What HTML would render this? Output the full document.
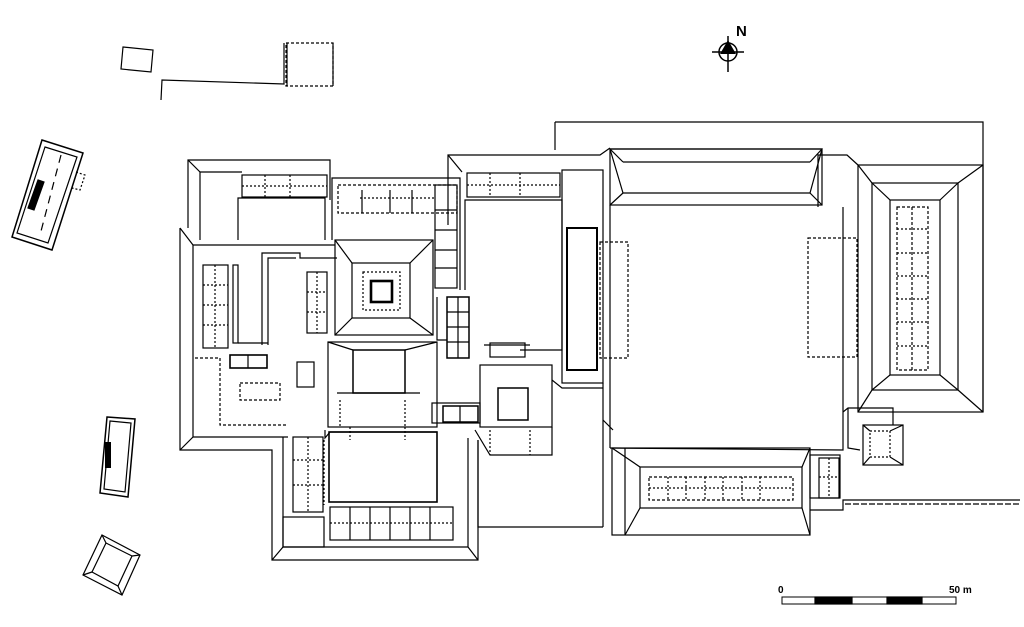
<!DOCTYPE html>
<html><head><meta charset="utf-8"><style>
html,body{margin:0;padding:0;background:#fff;}
svg{display:block}
</style></head><body>
<svg width="1024" height="627" viewBox="0 0 1024 627" xmlns="http://www.w3.org/2000/svg" fill="none" stroke="#000" stroke-width="1.2">
<!-- top-left remains -->
<polygon points="123,47 153,50 151,72 121,69"/>
<polyline points="161,100 162,80 284,84 284,43"/>
<rect x="286" y="43" width="47" height="43" stroke-dasharray="3,2"/>
<line x1="333" y1="43" x2="333" y2="86"/>
<line x1="287" y1="43" x2="287" y2="86"/>

<!-- detached west buildings -->
<polygon points="42,140 83,153 52,250 12,237" stroke-width="1.5"/>
<polygon points="45,147 77,157 48,243 17,233"/>
<polygon points="38,180 44,182 34,210 28,208" fill="#000"/>
<line x1="61" y1="155" x2="40" y2="235" stroke-dasharray="8,6"/>
<polyline points="76,172 85,175 80,190 72,188" stroke-dasharray="2,2"/>
<polygon points="107,417 135,419 128,497 100,493" stroke-width="1.5"/>
<polygon points="110,421 131,423 125,492 104,489"/>
<rect x="105" y="442" width="6" height="26" fill="#000" stroke="none"/>
<polygon points="102,535 140,555 122,595 83,575"/>
<polygon points="106,543 132,556 118,586 92,572"/>
<line x1="102" y1="535" x2="106" y2="543"/><line x1="140" y1="555" x2="132" y2="556"/>
<line x1="122" y1="595" x2="118" y2="586"/><line x1="83" y1="575" x2="92" y2="572"/>

<!-- west complex outer -->
<polyline points="180,228 180,450 272,450 272,560 478,560 478,440"/>
<polyline points="193,245 193,437 288,437"/>
<polyline points="283,437 283,547 468,547 468,438"/>
<line x1="180" y1="228" x2="193" y2="245"/><line x1="180" y1="450" x2="193" y2="437"/>
<line x1="272" y1="560" x2="283" y2="547"/><line x1="478" y1="560" x2="468" y2="547"/>
<!-- NW block -->
<polyline points="188,228 188,160 330,160 330,200"/>
<polyline points="200,240 200,172 242,172"/>
<line x1="188" y1="160" x2="200" y2="172"/>
<rect x="242" y="175" width="85" height="22"/>
<line x1="265" y1="175" x2="265" y2="197" stroke-dasharray="2,2"/>
<line x1="290" y1="175" x2="290" y2="197" stroke-dasharray="2,2"/>
<line x1="242" y1="186" x2="327" y2="186" stroke-dasharray="2,2"/>
<polyline points="238,240 238,198 325,198 325,240"/>
<line x1="193" y1="245" x2="335" y2="245"/>
<!-- west inner -->
<polyline points="262,345 262,253 300,253 300,258 337,258"/>
<polyline points="268,345 268,258 296,258"/>
<rect x="307" y="272" width="20" height="61"/>
<line x1="317" y1="272" x2="317" y2="333" stroke-dasharray="2,2"/>
<line x1="307" y1="292" x2="327" y2="292" stroke-dasharray="2,2"/>
<line x1="307" y1="312" x2="327" y2="312" stroke-dasharray="2,2"/>
<rect x="203" y="265" width="25" height="83"/>
<line x1="215" y1="265" x2="215" y2="348" stroke-dasharray="2,2"/>
<line x1="203" y1="285" x2="228" y2="285" stroke-dasharray="2,2"/>
<line x1="203" y1="305" x2="228" y2="305" stroke-dasharray="2,2"/>
<line x1="203" y1="325" x2="228" y2="325" stroke-dasharray="2,2"/>
<rect x="233" y="265" width="5" height="78"/>
<line x1="238" y1="343" x2="268" y2="343"/>
<rect x="230" y="355" width="37" height="13" stroke-width="1.6"/>
<line x1="248" y1="355" x2="248" y2="368"/>
<rect x="297" y="362" width="17" height="25"/>
<rect x="240" y="383" width="40" height="17" stroke-dasharray="3,2"/>
<polyline points="195,358 220,358 220,425 288,425" stroke-dasharray="3,2"/>
<!-- central pavilion -->
<rect x="335" y="240" width="98" height="95"/>
<rect x="352" y="263" width="58" height="55"/>
<line x1="335" y1="240" x2="352" y2="263"/><line x1="433" y1="240" x2="410" y2="263"/>
<line x1="335" y1="335" x2="352" y2="318"/><line x1="433" y1="335" x2="410" y2="318"/>
<rect x="363" y="272" width="37" height="38" stroke-dasharray="2,2"/>
<rect x="371" y="281" width="21" height="21" stroke-width="2.6"/>
<!-- north courtyard block -->
<polyline points="332,240 332,178 460,178 460,290"/>
<rect x="338" y="185" width="119" height="28" stroke-dasharray="3,2"/>
<rect x="435" y="185" width="22" height="103"/>
<line x1="435" y1="210" x2="457" y2="210"/><line x1="435" y1="230" x2="457" y2="230"/>
<line x1="435" y1="250" x2="457" y2="250"/><line x1="435" y1="268" x2="457" y2="268"/>
<line x1="360" y1="198" x2="435" y2="198" stroke-dasharray="2,2"/>
<line x1="362" y1="190" x2="362" y2="213"/><line x1="390" y1="190" x2="390" y2="213"/><line x1="412" y1="190" x2="412" y2="213"/>
<!-- cell column -->
<rect x="447" y="297" width="22" height="61" stroke-width="1.5"/>
<line x1="458" y1="297" x2="458" y2="358"/>
<line x1="447" y1="312" x2="469" y2="312"/><line x1="447" y1="327" x2="469" y2="327"/><line x1="447" y1="342" x2="469" y2="342"/>
<polyline points="437,297 437,340 447,340"/>
<!-- middle courtyard block -->
<rect x="328" y="342" width="109" height="85"/>
<rect x="353" y="350" width="52" height="43" stroke-width="1.5"/>
<line x1="328" y1="342" x2="353" y2="350"/><line x1="437" y1="342" x2="405" y2="350"/>
<line x1="337" y1="393" x2="420" y2="393"/>
<line x1="340" y1="400" x2="340" y2="427" stroke-dasharray="2,2"/>
<line x1="405" y1="400" x2="405" y2="427" stroke-dasharray="2,2"/>
<polyline points="325,430 325,438 330,432 437,432"/>
<line x1="350" y1="427" x2="350" y2="440" stroke-dasharray="2,2"/>
<line x1="405" y1="427" x2="405" y2="440" stroke-dasharray="2,2"/>
<!-- south part -->
<rect x="329" y="432" width="108" height="70" stroke-width="1.6"/>
<rect x="330" y="507" width="123" height="33"/>
<line x1="350" y1="507" x2="350" y2="540"/><line x1="370" y1="507" x2="370" y2="540"/>
<line x1="390" y1="507" x2="390" y2="540"/><line x1="410" y1="507" x2="410" y2="540"/><line x1="430" y1="507" x2="430" y2="540"/>
<line x1="330" y1="523" x2="453" y2="523" stroke-dasharray="2,2"/>
<rect x="293" y="437" width="30" height="75"/>
<line x1="308" y1="437" x2="308" y2="512" stroke-dasharray="2,2"/>
<line x1="293" y1="460" x2="323" y2="460" stroke-dasharray="2,2"/>
<line x1="293" y1="485" x2="323" y2="485" stroke-dasharray="2,2"/>
<rect x="283" y="517" width="41" height="30"/>
<line x1="324" y1="440" x2="324" y2="505" stroke-dasharray="2,2"/>
<!-- east-central -->
<rect x="480" y="365" width="72" height="62"/>
<rect x="498" y="388" width="30" height="32" stroke-width="1.5"/>
<rect x="432" y="403" width="48" height="20"/>
<rect x="443" y="406" width="35" height="16" stroke-width="1.5"/>
<line x1="460" y1="406" x2="460" y2="422"/>
<polyline points="475,430 490,455 552,455 552,427"/>
<line x1="490" y1="430" x2="490" y2="455" stroke-dasharray="2,2"/>
<line x1="530" y1="430" x2="530" y2="455" stroke-dasharray="2,2"/>
<polyline points="552,380 562,388 603,388"/>
<polyline points="478,440 478,527 603,527"/>
<rect x="490" y="343" width="35" height="14"/>
<line x1="484" y1="345" x2="530" y2="345"/>
<!-- NE courtyard -->
<polyline points="448,225 448,155 600,155 610,148"/>
<line x1="448" y1="155" x2="462" y2="172"/>
<rect x="467" y="173" width="93" height="24"/>
<line x1="467" y1="185" x2="560" y2="185" stroke-dasharray="2,2"/>
<line x1="490" y1="173" x2="490" y2="197" stroke-dasharray="2,2"/>
<line x1="520" y1="173" x2="520" y2="197" stroke-dasharray="2,2"/>
<polyline points="465,290 465,200 562,200 562,350 520,350"/>
<rect x="562" y="170" width="41" height="213"/>
<rect x="567" y="228" width="30" height="142" stroke-width="2"/>
<line x1="603" y1="383" x2="603" y2="527"/>
<line x1="603" y1="420" x2="613" y2="430"/>
<!-- big east -->
<polyline points="555,122 983,122 983,412"/>
<line x1="555" y1="122" x2="555" y2="150"/>
<polygon points="610,149 822,149 810,193 623,193"/>
<rect x="610" y="149" width="212" height="56"/>
<line x1="623" y1="162" x2="810" y2="162"/>
<line x1="610" y1="149" x2="623" y2="162"/><line x1="822" y1="149" x2="810" y2="162"/>
<line x1="610" y1="205" x2="623" y2="193"/><line x1="822" y1="205" x2="810" y2="193"/>
<polyline points="818,207 818,155 847,155 858,165"/>
<line x1="610" y1="205" x2="610" y2="448"/>
<polyline points="843,207 843,450 610,448"/>
<rect x="808" y="238" width="49" height="119" stroke-dasharray="3,2"/>
<rect x="600" y="242" width="28" height="116" stroke-dasharray="3,2"/>
<rect x="858" y="165" width="125" height="247"/>
<rect x="872" y="183" width="86" height="207"/>
<rect x="890" y="200" width="50" height="175"/>
<line x1="872" y1="183" x2="890" y2="200"/><line x1="958" y1="183" x2="940" y2="200"/>
<line x1="872" y1="390" x2="890" y2="375"/><line x1="958" y1="390" x2="940" y2="375"/>
<line x1="858" y1="165" x2="872" y2="183"/><line x1="983" y1="165" x2="958" y2="183"/>
<line x1="858" y1="412" x2="872" y2="390"/><line x1="983" y1="412" x2="958" y2="390"/>
<rect x="897" y="207" width="31" height="163" stroke-dasharray="3,2"/>
<line x1="912" y1="207" x2="912" y2="370" stroke-dasharray="3,2"/>
<line x1="897" y1="229" x2="928" y2="229" stroke-dasharray="2,2"/>
<line x1="897" y1="253" x2="928" y2="253" stroke-dasharray="2,2"/>
<line x1="897" y1="276" x2="928" y2="276" stroke-dasharray="2,2"/>
<line x1="897" y1="299" x2="928" y2="299" stroke-dasharray="2,2"/>
<line x1="897" y1="322" x2="928" y2="322" stroke-dasharray="2,2"/>
<line x1="897" y1="346" x2="928" y2="346" stroke-dasharray="2,2"/>
<polyline points="843,412 848,408 893,408 893,425"/>
<polyline points="848,408 848,448 860,450"/>
<rect x="863" y="425" width="40" height="40"/>
<rect x="870" y="431" width="20" height="26" stroke-dasharray="2,2"/>
<line x1="863" y1="425" x2="870" y2="431"/><line x1="903" y1="425" x2="890" y2="431"/>
<line x1="863" y1="465" x2="870" y2="457"/><line x1="903" y1="465" x2="890" y2="457"/>
<!-- south hall -->
<rect x="612" y="448" width="198" height="87"/>
<rect x="640" y="467" width="162" height="41"/>
<line x1="612" y1="448" x2="640" y2="467"/><line x1="810" y1="448" x2="802" y2="467"/>
<line x1="625" y1="535" x2="640" y2="508"/><line x1="810" y1="535" x2="802" y2="508"/>
<line x1="625" y1="448" x2="625" y2="535"/>
<rect x="649" y="477" width="144" height="23" stroke-dasharray="3,2"/>
<line x1="668" y1="477" x2="668" y2="500" stroke-dasharray="2,2"/>
<line x1="686" y1="477" x2="686" y2="500" stroke-dasharray="2,2"/>
<line x1="705" y1="477" x2="705" y2="500" stroke-dasharray="2,2"/>
<line x1="723" y1="477" x2="723" y2="500" stroke-dasharray="2,2"/>
<line x1="742" y1="477" x2="742" y2="500" stroke-dasharray="2,2"/>
<line x1="760" y1="477" x2="760" y2="500" stroke-dasharray="2,2"/>
<line x1="649" y1="488" x2="793" y2="488" stroke-dasharray="2,2"/>
<rect x="810" y="455" width="30" height="43"/>
<rect x="819" y="458" width="20" height="40"/>
<line x1="829" y1="458" x2="829" y2="498" stroke-dasharray="2,2"/>
<line x1="819" y1="477" x2="839" y2="477" stroke-dasharray="2,2"/>
<polyline points="810,510 843,510 843,500 1020,500"/>
<line x1="845" y1="504" x2="1020" y2="504" stroke-dasharray="6,2"/>

<!-- north arrow -->
<circle cx="728" cy="52" r="9" stroke-width="1.5"/>
<line x1="712" y1="52" x2="744" y2="52" stroke-width="1.5"/>
<line x1="728" y1="36" x2="728" y2="72" stroke-width="1.5"/>
<polygon points="728,40 720,54 736,54" fill="#000" stroke="none"/>
<text x="736" y="36" font-family="Liberation Sans, sans-serif" font-weight="bold" font-size="15" fill="#000" stroke="none">N</text>

<!-- scale bar -->
<rect x="782" y="597" width="174" height="7" stroke-width="1"/>
<rect x="815" y="597" width="37" height="7" fill="#000"/>
<rect x="887" y="597" width="35" height="7" fill="#000"/>
<text x="778" y="593" font-family="Liberation Sans, sans-serif" font-weight="bold" font-size="10" fill="#000" stroke="none">0</text>
<text x="949" y="593" font-family="Liberation Sans, sans-serif" font-weight="bold" font-size="10" fill="#000" stroke="none">50 m</text>
</svg>
</body></html>
